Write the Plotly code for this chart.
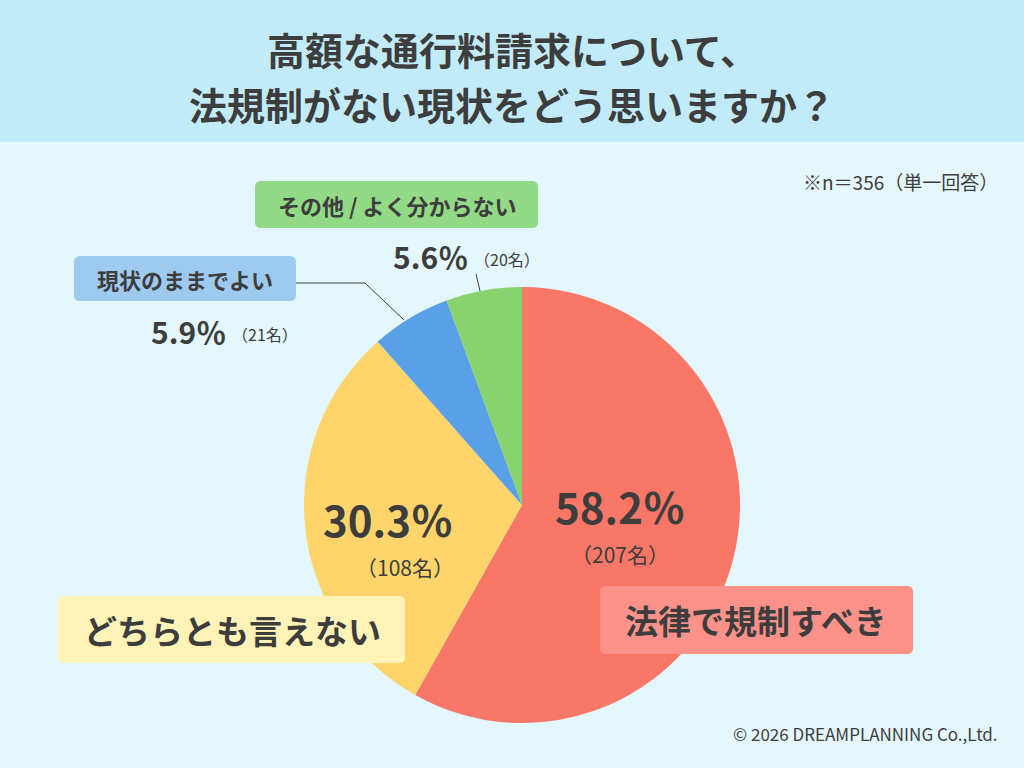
import plotly.graph_objects as go

W, H = 1024, 768

# data
labels = ["法律で規制すべき", "どちらとも言えない", "現状のままでよい", "その他 / よく分からない"]
counts = [207, 108, 21, 20]
percents = [58.2, 30.3, 5.9, 5.6]
slice_colors = ["#f97766", "#fed56a", "#5aa0e6", "#88d26f"]
box_colors = ["#fb928a", "#fff3b8", "#9fcaf0", "#92da86"]

FONT = "Noto Sans CJK JP"
DARK = "#3d3d3d"


def px(x):
    return x / W


def py(y):
    return 1 - y / H


def round_box(x0, y0, x1, y1, r, color):
    # rounded rectangle in pixel coords -> paper path
    p = (f"M {px(x0 + r)},{py(y0)} L {px(x1 - r)},{py(y0)} "
         f"Q {px(x1)},{py(y0)} {px(x1)},{py(y0 + r)} L {px(x1)},{py(y1 - r)} "
         f"Q {px(x1)},{py(y1)} {px(x1 - r)},{py(y1)} L {px(x0 + r)},{py(y1)} "
         f"Q {px(x0)},{py(y1)} {px(x0)},{py(y1 - r)} L {px(x0)},{py(y0 + r)} "
         f"Q {px(x0)},{py(y0)} {px(x0 + r)},{py(y0)} Z")
    return dict(type="path", xref="paper", yref="paper", path=p,
                fillcolor=color, line=dict(width=0), layer="above")


cx, cy, rad = 522, 505, 218

fig = go.Figure(go.Pie(
    labels=labels,
    values=counts,
    sort=False,
    direction="clockwise",
    rotation=0,
    marker=dict(colors=slice_colors, line=dict(width=0)),
    textinfo="none",
    hoverinfo="label+percent",
    domain=dict(x=[px(cx - rad), px(cx + rad)], y=[py(cy + rad), py(cy - rad)]),
    showlegend=False,
))

shapes = [
    dict(type="rect", xref="paper", yref="paper", x0=0, x1=1, y0=0, y1=1,
         fillcolor="#e4f7fd", line=dict(width=0), layer="below"),
    dict(type="rect", xref="paper", yref="paper", x0=0, x1=1, y0=py(142), y1=1,
         fillcolor="#c1ebf9", line=dict(width=0), layer="below"),
    round_box(600, 586, 913, 654, 6, box_colors[0]),
    round_box(58, 596, 405, 663, 6, box_colors[1]),
    round_box(74, 256, 296, 301, 6, box_colors[2]),
    round_box(255, 181, 538, 228, 6, box_colors[3]),
    # leader lines
    dict(type="path", xref="paper", yref="paper",
         path=f"M {px(296)},{py(283)} L {px(365)},{py(283)} L {px(404)},{py(320)}",
         line=dict(color=DARK, width=1)),
    dict(type="line", xref="paper", yref="paper", x0=px(476), y0=py(274), x1=px(480), y1=py(291),
         line=dict(color=DARK, width=1)),
]

ann = []


def text(x, y, s, size, bold=False, xanchor="center", color=DARK):
    ann.append(dict(x=px(x), y=py(y), xref="paper", yref="paper", text=f"<b>{s}</b>" if bold else s,
                    showarrow=False, xanchor=xanchor, yanchor="middle",
                    font=dict(family=FONT, size=size, color=color)))


text(512, 48, "高額な通行料請求について、", 38, bold=True)
text(512, 103, "法規制がない現状をどう思いますか？", 38, bold=True)
text(1000, 181, "※n＝356（単一回答）", 19, xanchor="right")

# category labels
text(756, 620, labels[0], 33, bold=True)
text(232, 630, labels[1], 33, bold=True)
text(185, 279, labels[2], 22, bold=True)
text(397, 205, labels[3], 22, bold=True)

# values
text(620, 505, f"{percents[0]}％", 42, bold=True)
text(620, 554, f"（{counts[0]}名）", 21)
text(388, 518, f"{percents[1]}％", 42, bold=True)
text(405, 567, f"（{counts[1]}名）", 21)
text(228, 331, f"{percents[2]}％", 30, bold=True, xanchor="right")
text(230, 334, f"（{counts[2]}名）", 16, xanchor="left")
text(470, 256, f"{percents[3]}％", 30, bold=True, xanchor="right")
text(472, 259, f"（{counts[3]}名）", 16, xanchor="left")

text(1000, 733, "© 2026 DREAMPLANNING Co.,Ltd.", 17, xanchor="right")

fig.update_layout(
    width=W, height=H,
    margin=dict(l=0, r=0, t=0, b=0),
    paper_bgcolor="#e4f7fd",
    plot_bgcolor="#e4f7fd",
    shapes=shapes,
    annotations=ann,
)

fig.write_html("out.html", config={"displayModeBar": False},
               post_script="document.body.style.margin='0';document.body.style.overflow='hidden';")
